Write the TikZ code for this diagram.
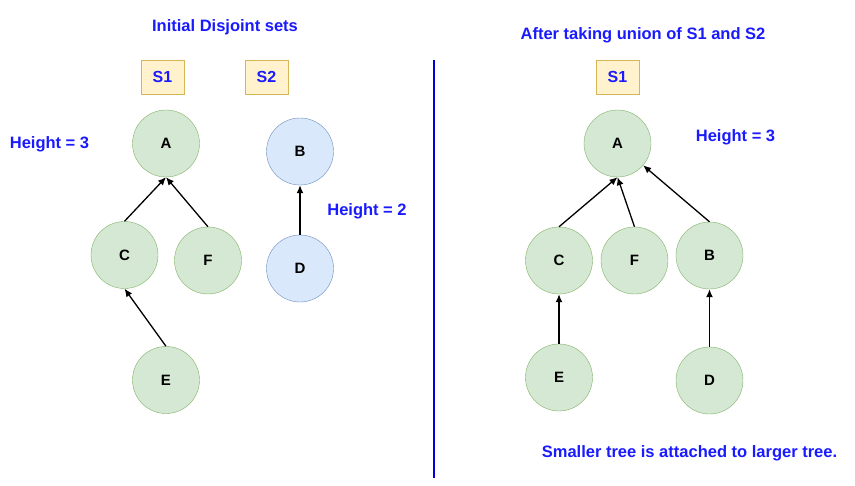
\documentclass[tikz,border=0pt]{standalone}
\usepackage{fontspec}
\setmainfont{Liberation Sans}
\usepackage{tikz}
\usetikzlibrary{arrows.meta}
\definecolor{greenfill}{HTML}{D5E8D4}
\definecolor{greenline}{HTML}{82B366}
\definecolor{bluefill}{HTML}{DAE8FC}
\definecolor{blueline}{HTML}{6C8EBF}
\definecolor{setfill}{HTML}{FFF2CC}
\definecolor{setline}{HTML}{D6B656}
\definecolor{labelblue}{HTML}{1A1AFF}
\begin{document}
\begin{tikzpicture}[x=1pt, y=-1pt,
  vertex/.style={circle, draw=greenline, fill=greenfill, minimum size=67pt, inner sep=0, font=\fontsize{15}{18}\selectfont\bfseries},
  bvertex/.style={vertex, draw=blueline, fill=bluefill},
  setbox/.style={draw=setline, fill=setfill, minimum width=43pt, minimum height=34pt, inner sep=0, text=labelblue, font=\fontsize{16}{19}\selectfont\bfseries},
  caption/.style={text=labelblue, inner sep=0, font=\fontsize{16.5}{19}\selectfont\bfseries},
  link/.style={-{Latex[length=8pt,width=7pt]}, line width=1.3pt}]
\useasboundingbox (0,0) rectangle (855,486);
%left: initial sets
\node[caption] (t1) at (225,27) {Initial Disjoint sets};
\node[setbox] (s1) at (162.5,77) {S1};
\node[setbox] (s2) at (266.5,77) {S2};
\node[caption] (h1) at (49.5,144) {Height = 3};
\node[caption] (h2) at (367,211) {Height = 2};
\node[vertex] (a) at (166,143.5) {A};
\node[vertex] (c) at (124.5,255) {C};
\node[vertex] (f) at (208,260.5) {F};
\node[vertex] (e) at (166,380) {E};
\node[bvertex] (b) at (300,151.5) {B};
\node[bvertex] (d) at (300,268.5) {D};
\draw [link] (c.north) -- (a.south);
\draw [link] (f.north) -- (a.south);
\draw [link] (e.north) -- (c.south);
\draw [link] (d.north) -- (b.south);
%divider
\coordinate (top) at (434,60);
\coordinate (bot) at (434,478);
\draw[blue!85!black, line width=2pt] (top) -- (bot);
%right: after union
\node[caption] (t2) at (643,35) {After taking union of S1 and S2};
\node[setbox] (r1) at (617.5,77) {S1};
\node[caption] (h3) at (735.5,137) {Height = 3};
\node[vertex] (ra) at (617.5,143.5) {A};
\node[vertex] (rc) at (559,260.5) {C};
\node[vertex] (rf) at (634.5,260.5) {F};
\node[vertex] (rb) at (709.5,255.5) {B};
\node[vertex] (re) at (559,377.5) {E};
\node[vertex] (rd) at (709.5,380.5) {D};
\draw [link] (rc.north) -- (ra.south);
\draw [link] (rf.north) -- (ra.south);
\draw [link] (rb.north) -- (ra);
\draw [link] (re.north) -- (rc.south);
\draw [link] (rd.north) -- (rb.south);
\node[caption] (note) at (689.5,453) {Smaller tree is attached to larger tree.};
\end{tikzpicture}
\end{document}
